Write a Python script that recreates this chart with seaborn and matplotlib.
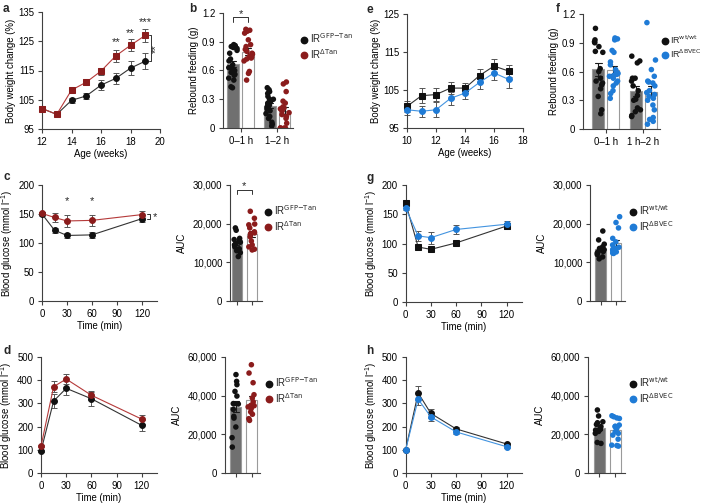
import numpy as np
import pandas as pd
import matplotlib
matplotlib.use('Agg')
import matplotlib.pyplot as plt
import matplotlib.ticker as mtick
from matplotlib.lines import Line2D
import seaborn as sns

# ---------------- data ----------------
# a: body weight, IR GFP-Tan vs IR dTan
age_a = [12, 13, 14, 15, 16, 17, 18, 19]
bw_gfp = [102.0, 100.0, 104.8, 106.3, 110.0, 112.3, 115.8, 118.2]
bw_gfp_se = [1.0, 0.6, 0.8, 1.0, 1.6, 2.0, 2.5, 2.8]
bw_tan = [102.0, 100.0, 108.3, 111.0, 114.8, 120.0, 123.6, 127.0]
bw_tan_se = [1.0, 0.6, 0.7, 1.0, 1.2, 2.0, 2.0, 2.2]

# b: rebound feeding
feed_windows_b = ['0–1 h', '1–2 h']
feed_gfp_01 = [0.87, 0.86, 0.85, 0.84, 0.83, 0.81, 0.78, 0.72, 0.70, 0.66,
               0.63, 0.61, 0.60, 0.58, 0.56, 0.55, 0.52, 0.50, 0.43, 0.42]
feed_tan_01 = [1.03, 1.02, 1.01, 0.99, 0.92, 0.87, 0.85, 0.82, 0.80, 0.78,
               0.77, 0.75, 0.74, 0.73, 0.72, 0.70, 0.59, 0.57, 0.50]
feed_gfp_12 = [0.42, 0.40, 0.38, 0.36, 0.33, 0.30, 0.30, 0.28, 0.26, 0.25,
               0.24, 0.22, 0.20, 0.18, 0.15, 0.12, 0.10, 0.06, 0.04, 0.02]
feed_tan_12 = [0.48, 0.46, 0.38, 0.28, 0.26, 0.22, 0.21, 0.20, 0.18, 0.16,
               0.14, 0.12, 0.10, 0.05, 0.0, 0.0, 0.0, 0.0]

# e: body weight, IR wt/wt vs IR dBVEC
age_e = [10, 11, 12, 13, 14, 15, 16, 17]
bw_wt = [100.7, 103.5, 103.8, 105.5, 105.5, 108.8, 111.3, 110.0]
bw_wt_se = [1.5, 2.0, 1.8, 1.5, 1.3, 1.6, 1.8, 1.7]
bw_bvec = [99.8, 99.4, 99.8, 102.8, 104.2, 107.0, 109.5, 107.8]
bw_bvec_se = [1.5, 1.5, 2.0, 1.8, 1.7, 1.8, 2.0, 2.3]

# f: rebound feeding
feed_windows_f = ['0–1 h', '1 h–2 h']
feed_wt_01 = [1.05, 0.93, 0.91, 0.90, 0.86, 0.81, 0.80, 0.63, 0.60, 0.53,
              0.50, 0.48, 0.46, 0.42, 0.34, 0.20, 0.16]
feed_bvec_01 = [0.95, 0.94, 0.93, 0.82, 0.80, 0.70, 0.67, 0.62, 0.60, 0.58,
                0.57, 0.56, 0.55, 0.53, 0.50, 0.48, 0.45, 0.40, 0.37, 0.32]
feed_wt_12 = [0.76, 0.71, 0.69, 0.53, 0.53, 0.50, 0.45, 0.40, 0.35, 0.31,
              0.30, 0.22, 0.20, 0.18, 0.14, 0.13]
feed_bvec_12 = [1.11, 0.72, 0.62, 0.55, 0.50, 0.49, 0.48, 0.45, 0.40, 0.38,
                0.36, 0.34, 0.32, 0.30, 0.25, 0.20, 0.12, 0.10, 0.08, 0.05]

# glucose / insulin tolerance time points
time_min = [0, 15, 30, 60, 120]
# c
itt_gfp = [150, 122, 113, 114, 142]
itt_gfp_se = [3, 4, 5, 5, 6]
itt_tan = [151, 144, 138, 139, 149]
itt_tan_se = [3, 8, 10, 9, 6]
auc_itt_gfp = [18900, 18300, 16200, 15900, 15600, 15400, 15200, 14900, 14500,
               14000, 13500, 12500, 11500, 13000]
auc_itt_tan = [23200, 21400, 19900, 19700, 18900, 17900, 17600, 17400, 16600,
               15500, 14500, 14000, 13400, 13200]
# g
itt_wt = [170, 94, 90, 101, 130]
itt_wt_se = [5, 4, 3, 3, 5]
itt_bvec = [161, 113, 110, 124, 133]
itt_bvec_se = [4, 8, 10, 7, 5]
auc_itt_wt = [18100, 15800, 14700, 14000, 13600, 13300, 13100, 12800, 12400,
              12000, 11400, 10900, 13500, 12700]
auc_itt_bvec = [21800, 20300, 18900, 16200, 15300, 14500, 13900, 13600, 13300,
                13000, 12700, 12400, 12300, 12800]
# d
gtt_gfp = [95, 310, 365, 320, 205]
gtt_gfp_se = [5, 30, 30, 30, 25]
gtt_tan = [115, 372, 405, 335, 232]
gtt_tan_se = [5, 25, 22, 20, 20]
auc_gtt_gfp = [50900, 47400, 45700, 42200, 39800, 35900, 35800, 35700, 32900,
               29300, 28400, 23800, 18300, 13400]
auc_gtt_tan = [56000, 51700, 46700, 40500, 38800, 36800, 35000, 34200, 33300,
               31600, 30400, 28100, 27200, 34800]
# h
gtt_wt = [97, 345, 257, 190, 125]
gtt_wt_se = [3, 30, 18, 10, 6]
gtt_bvec = [97, 318, 242, 177, 113]
gtt_bvec_se = [3, 25, 18, 8, 5]
auc_gtt_wt = [32600, 29500, 26500, 26000, 25100, 24000, 23000, 22500, 22200,
              21500, 20500, 15800, 15300]
auc_gtt_bvec = [29600, 29100, 28200, 24800, 24200, 23900, 22800, 21300, 20500,
                19600, 17500, 14400, 13900, 14200, 24000, 28500]

lab_gfp = 'IR$^{\\mathrm{GFP{-}Tan}}$'
lab_tan = 'IR$^{\\Delta\\mathrm{Tan}}$'
lab_wt = 'IR$^{\\mathrm{wt/wt}}$'
lab_bvec = 'IR$^{\\Delta\\mathrm{BVEC}}$'

# ---------------- style ----------------
sns.set_theme(style='ticks')
plt.rcParams['font.family'] = ['Liberation Sans', 'DejaVu Sans']
plt.rcParams.update({
    'font.size': 7, 'axes.labelsize': 6.9, 'xtick.labelsize': 6.9, 'ytick.labelsize': 6.9,
    'axes.linewidth': 0.8, 'axes.edgecolor': '#404040',
    'xtick.major.size': 3, 'ytick.major.size': 3,
    'xtick.major.width': 0.8, 'ytick.major.width': 0.8,
    'xtick.major.pad': 2.5, 'ytick.major.pad': 2.5,
    'xtick.color': '#404040', 'ytick.color': '#404040',
    'xtick.labelcolor': 'black', 'ytick.labelcolor': 'black',
    'axes.labelcolor': 'black', 'mathtext.default': 'regular',
    'axes.labelpad': 2.0,
})
np.random.seed(3)

BLACK = '#111111'
RED = '#8b1c1c'
RED_LINE = '#b53a3a'
BLUE = '#1f7bd6'
BLUE_LINE = '#4394e0'
DARK_BAR = '#707070'
ERR = '#555555'

W, H = 706, 503
fig = plt.figure(figsize=(W / 100, H / 100), dpi=100)


def rect(l, t, r, b):
    return [l / W, 1 - b / H, (r - l) / W, (b - t) / H]


def time_panel(ax, x, series, xlim, ylim, xticks, yticks, xlabel, ylabel):
    for y, e, mc, lc, mk in series:
        ax.errorbar(x, y, yerr=e, fmt='none', ecolor=ERR, elinewidth=0.7,
                    capsize=2, capthick=0.7, zorder=2, clip_on=False)
        sns.lineplot(x=x, y=y, color=lc, lw=0.8, marker=mk, markersize=4.2,
                     markerfacecolor=mc, markeredgecolor=mc, ax=ax,
                     clip_on=False, zorder=3)
    ax.set_xlim(*xlim)
    ax.set_ylim(*ylim)
    ax.set_xticks(xticks)
    ax.set_yticks(yticks)
    ax.set_xlabel(xlabel, labelpad=2)
    ax.set_ylabel(ylabel, labelpad=2)
    sns.despine(ax=ax)


def feed_panel(ax, wins, groups, values, fills, dots, xlim):
    rows = []
    for g, per_win in zip(groups, values):
        for w, vals in zip(wins, per_win):
            rows += [{'win': w, 'grp': g, 'val': v} for v in vals]
    df = pd.DataFrame(rows)
    sns.barplot(data=df, x='win', y='val', hue='grp', order=wins, hue_order=groups,
                palette=fills, errorbar='se', capsize=0.35,
                err_kws={'color': 'k', 'linewidth': 0.8}, width=0.8, gap=0.2,
                edgecolor='#9a9a9a', linewidth=0.8, legend=False, ax=ax)
    sns.stripplot(data=df, x='win', y='val', hue='grp', order=wins, hue_order=groups,
                  palette=dots, dodge=True, jitter=0.26, size=4, linewidth=0,
                  legend=False, ax=ax, zorder=3)
    ax.set_xlim(*xlim)
    ax.set_ylim(0, 1.2)
    ax.set_yticks([0, 0.3, 0.6, 0.9, 1.2])
    ax.yaxis.set_major_formatter(mtick.FuncFormatter(lambda v, p: '0' if v == 0 else f'{v:.1f}'))
    ax.set_xlabel('')
    ax.set_ylabel('Rebound feeding (g)')
    sns.despine(ax=ax)


def auc_panel(ax, groups, values, fills, dots, ymax, xlim):
    df = pd.DataFrame([{'grp': g, 'val': v} for g, vals in zip(groups, values) for v in vals])
    sns.barplot(data=df, x='grp', y='val', hue='grp', order=groups, hue_order=groups,
                palette=fills, errorbar='se', capsize=0.35,
                err_kws={'color': 'k', 'linewidth': 0.8}, width=0.7,
                edgecolor='#9a9a9a', linewidth=0.8, legend=False, ax=ax)
    sns.stripplot(data=df, x='grp', y='val', hue='grp', order=groups, hue_order=groups,
                  palette=dots, jitter=0.25, size=4, linewidth=0, legend=False,
                  ax=ax, zorder=3)
    ax.set_xlim(*xlim)
    ax.set_ylim(0, ymax)
    ax.set_yticks(np.linspace(0, ymax, 4))
    ax.yaxis.set_major_formatter(mtick.StrMethodFormatter('{x:,.0f}'))
    ax.set_xticklabels([])
    ax.set_xlabel('')
    ax.set_ylabel('AUC', labelpad=4)
    sns.despine(ax=ax)


def add_legend(labels, colors, px_x, px_y, size=7):
    handles = [Line2D([], [], marker='o', ls='', color=c, markersize=4.6) for c in colors]
    fig.legend(handles, labels, loc='center left',
               bbox_to_anchor=((px_x - 3.5) / W, 1 - px_y / H), frameon=False,
               fontsize=size, handlelength=0.7, handletextpad=0.3,
               labelspacing=0.15, borderpad=0, borderaxespad=0)


def stars(ax, x, y, s, **kw):
    ax.text(x, y, s, ha='center', va='center', fontsize=8, clip_on=False, **kw)


def bracket_v(ax, x, y0, y1, dx):
    ax.plot([x - dx, x, x, x - dx], [y0, y0, y1, y1], color='#333333', lw=0.7, clip_on=False)


def bracket_h(ax, x0, x1, y, dy):
    ax.plot([x0, x0, x1, x1], [y - dy, y, y, y - dy], color='#333333', lw=0.7, clip_on=False)


# ---------------- a ----------------
ax_a = fig.add_axes(rect(42, 12, 160, 129))
time_panel(ax_a, age_a, [(bw_gfp, bw_gfp_se, BLACK, '#333333', 'o'),
                         (bw_tan, bw_tan_se, RED, RED_LINE, 's')],
           (12, 20), (95, 135), [12, 14, 16, 18, 20], [95, 105, 115, 125, 135],
           'Age (weeks)', 'Body weight change (%)')
stars(ax_a, 17, 124.6, '**')
stars(ax_a, 18, 127.8, '**')
stars(ax_a, 19, 131.7, '***')
bracket_v(ax_a, 19.37, 118.2, 127.0, 0.12)
stars(ax_a, 19.75, 122.6, '**', rotation=90)

# ---------------- b ----------------
ax_b = fig.add_axes(rect(223, 13, 293, 128))
feed_panel(ax_b, feed_windows_b, ['gfp', 'tan'],
           [[feed_gfp_01, feed_gfp_12], [feed_tan_01, feed_tan_12]],
           [DARK_BAR, 'white'], [BLACK, RED], (-0.48, 1.43))
bracket_h(ax_b, -0.2, 0.2, 1.155, 0.045)
stars(ax_b, 0.0, 1.19, '*')
add_legend([lab_gfp, lab_tan], [BLACK, RED], 304, 46)

# ---------------- e ----------------
ax_e = fig.add_axes(rect(407, 14, 523, 128))
time_panel(ax_e, age_e, [(bw_wt, bw_wt_se, BLACK, '#333333', 's'),
                         (bw_bvec, bw_bvec_se, BLUE, BLUE_LINE, 'o')],
           (10, 18), (95, 125), [10, 12, 14, 16, 18], [95, 105, 115, 125],
           'Age (weeks)', 'Body weight change (%)')

# ---------------- f ----------------
ax_f = fig.add_axes(rect(583, 14, 660, 129))
feed_panel(ax_f, feed_windows_f, ['wt', 'bvec'],
           [[feed_wt_01, feed_wt_12], [feed_bvec_01, feed_bvec_12]],
           [DARK_BAR, 'white'], [BLACK, BLUE], (-0.61, 1.44))
add_legend([lab_wt, lab_bvec], [BLACK, BLUE], 665, 47, size=6.4)

glu_label = 'Blood glucose (mmol l$^{-1}$)'

# ---------------- c ----------------
ax_c = fig.add_axes(rect(42, 185, 157, 301))
time_panel(ax_c, time_min, [(itt_gfp, itt_gfp_se, BLACK, '#333333', 'o'),
                            (itt_tan, itt_tan_se, RED, RED_LINE, 'o')],
           (0, 138), (0, 200), [0, 30, 60, 90, 120], [0, 50, 100, 150, 200],
           'Time (min)', glu_label)
stars(ax_c, 30, 172, '*')
stars(ax_c, 60, 172, '*')
bracket_v(ax_c, 129, 142, 150, 3)
stars(ax_c, 135.5, 144, '*')

ax_cA = fig.add_axes(rect(230, 185, 262, 301))
auc_panel(ax_cA, ['gfp', 'tan'], [auc_itt_gfp, auc_itt_tan], [DARK_BAR, 'white'],
          [BLACK, RED], 30000, (-0.45, 1.67))
bracket_h(ax_cA, 0, 1, 28700, 1100)
stars(ax_cA, 0.5, 29800, '*')
add_legend([lab_gfp, lab_tan], [BLACK, RED], 268, 218)

# ---------------- g ----------------
ax_g = fig.add_axes(rect(405.5, 185, 522, 302))
time_panel(ax_g, time_min, [(itt_wt, itt_wt_se, BLACK, '#333333', 's'),
                            (itt_bvec, itt_bvec_se, BLUE, BLUE_LINE, 'o')],
           (0, 138), (0, 200), [0, 30, 60, 90, 120], [0, 50, 100, 150, 200],
           'Time (min)', glu_label)

ax_gA = fig.add_axes(rect(590, 185, 625, 301))
auc_panel(ax_gA, ['wt', 'bvec'], [auc_itt_wt, auc_itt_bvec], [DARK_BAR, 'white'],
          [BLACK, BLUE], 30000, (-0.7, 1.59))
add_legend([lab_wt, lab_bvec], [BLACK, BLUE], 633, 218)

# ---------------- d ----------------
ax_d = fig.add_axes(rect(41, 357, 157, 473))
time_panel(ax_d, time_min, [(gtt_gfp, gtt_gfp_se, BLACK, '#333333', 'o'),
                            (gtt_tan, gtt_tan_se, RED, RED_LINE, 'o')],
           (0, 138), (0, 500), [0, 30, 60, 90, 120], [0, 100, 200, 300, 400, 500],
           'Time (min)', glu_label)

ax_dA = fig.add_axes(rect(225, 357, 260, 473))
auc_panel(ax_dA, ['gfp', 'tan'], [auc_gtt_gfp, auc_gtt_tan], [DARK_BAR, 'white'],
          [BLACK, RED], 60000, (-0.7, 1.53))
add_legend([lab_gfp, lab_tan], [BLACK, RED], 269, 390)

# ---------------- h ----------------
ax_h = fig.add_axes(rect(405.5, 357, 522, 473))
time_panel(ax_h, time_min, [(gtt_wt, gtt_wt_se, BLACK, '#333333', 'o'),
                            (gtt_bvec, gtt_bvec_se, BLUE, BLUE_LINE, 'o')],
           (0, 138), (0, 500), [0, 30, 60, 90, 120], [0, 100, 200, 300, 400, 500],
           'Time (min)', glu_label)

ax_hA = fig.add_axes(rect(588, 357, 625, 473))
auc_panel(ax_hA, ['wt', 'bvec'], [auc_gtt_wt, auc_gtt_bvec], [DARK_BAR, 'white'],
          [BLACK, BLUE], 60000, (-0.7, 1.59))
add_legend([lab_wt, lab_bvec], [BLACK, BLUE], 633, 390)

# panel letters
for letter, px, py in [('a', 3, 3), ('b', 189, 3), ('e', 366, 4), ('f', 556, 3),
                       ('c', 3, 171), ('g', 366, 172), ('d', 3, 345), ('h', 366, 345)]:
    fig.text(px / W, 1 - py / H, letter, fontsize=8.5, fontweight='bold', va='top', ha='left')

fig.savefig('out.png', dpi=100)
